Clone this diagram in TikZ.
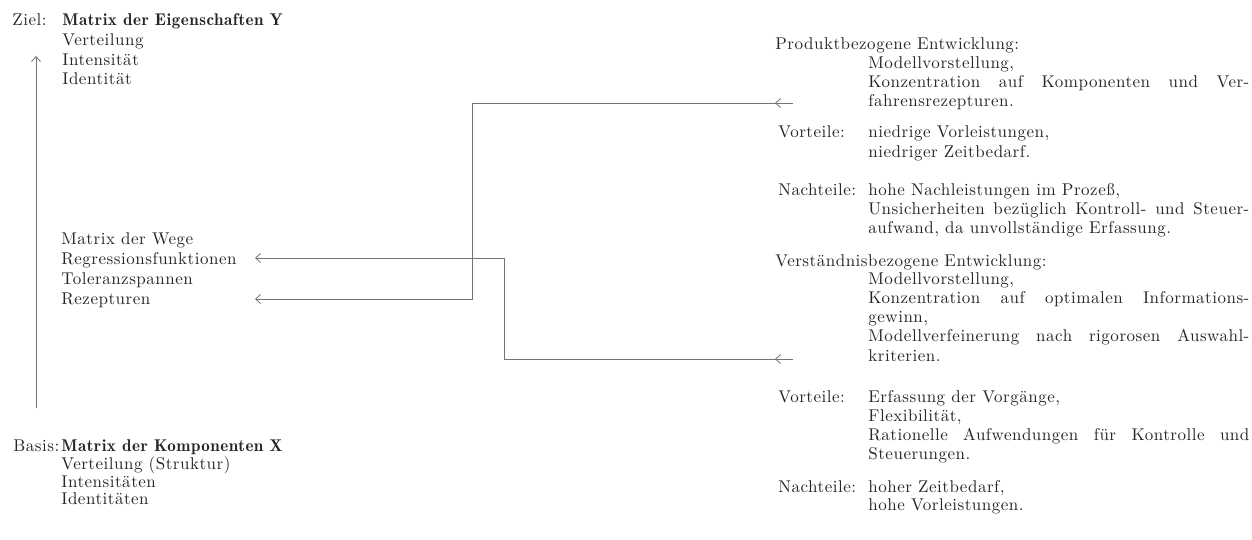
\documentclass[tikz,border=0pt]{standalone}
\usepackage{fontspec}
\setmainfont{lmroman10-regular}[Extension=.otf, BoldFont=lmromandemi10-regular, LetterSpace=3]
\usetikzlibrary{arrows.meta}
\tikzset{
  txt/.style={anchor=base west, inner sep=0pt, font=\fontsize{8.5}{10}\selectfont, text=black!85},
  conn/.style={draw=black!55, line width=0.4pt},
  tip/.style={conn, -{Straight Barb[length=2.5pt,width=4.5pt]}},
  tipstart/.style={conn, {Straight Barb[length=2.5pt,width=4.5pt]}-},
}
\newcommand{\jline}[1]{\makebox[190.5pt][s]{#1}}
\begin{document}
\begin{tikzpicture}[x=0.5pt,y=-0.5pt]
\useasboundingbox (0,0) rectangle (1252,540);
% left column, top
\node[txt] (ziel) at (12,26) {Ziel:};
\node[txt] (zielm) at (62,26) {\textbf{Matrix der Eigenschaften Y}};
\node[txt] (zv) at (62,46) {Verteilung};
\node[txt] (zi) at (62,66) {Intensität};
\node[txt] (zid) at (62,85) {Identität};
% left column, middle
\node[txt] (mw) at (61,244) {Matrix der Wege};
\node[txt] (rf) at (61,264) {Regressionsfunktionen};
\node[txt] (ts) at (61,284) {Toleranzspannen};
\node[txt] (rz) at (61,304) {Rezepturen};
% left column, bottom
\node[txt] (basis) at (13,451) {Basis:};
\node[txt] (basism) at (61,451) {\textbf{Matrix der Komponenten X}};
\node[txt] (bv) at (61,469) {Verteilung (Struktur)};
\node[txt] (bi) at (61,487) {Intensitäten};
\node[txt] (bid) at (61,504) {Identitäten};
% right column, upper block
\node[txt] (pe) at (775,50) {Produktbezogene Entwicklung:};
\node[txt] (pe1) at (868,69) {Modellvorstellung,};
\node[txt] (pe2) at (868,88) {\jline{Konzentration auf Komponenten und Ver-}};
\node[txt] (pe3) at (868,107) {fahrensrezepturen.};
\node[txt] (pv) at (778,138) {Vorteile:};
\node[txt] (pv1) at (868,138) {niedrige Vorleistungen,};
\node[txt] (pv2) at (868,157) {niedriger Zeitbedarf.};
\node[txt] (pn) at (778,195) {Nachteile:};
\node[txt] (pn1) at (868,195) {hohe Nachleistungen im Prozeß,};
\node[txt] (pn2) at (868,214) {\jline{Unsicherheiten bezüglich Kontroll- und Steuer-}};
\node[txt] (pn3) at (868,233) {aufwand, da unvollständige Erfassung.};
% right column, lower block
\node[txt] (ve) at (775,266) {Verständnisbezogene Entwicklung:};
\node[txt] (ve1) at (868,284) {Modellvorstellung,};
\node[txt] (ve2) at (868,303) {\jline{Konzentration auf optimalen Informations-}};
\node[txt] (ve3) at (868,322) {gewinn,};
\node[txt] (ve4) at (868,341) {\jline{Modellverfeinerung nach rigorosen Auswahl-}};
\node[txt] (ve5) at (868,361) {kriterien.};
\node[txt] (vv) at (778,402) {Vorteile:};
\node[txt] (vv1) at (868,402) {Erfassung der Vorgänge,};
\node[txt] (vv2) at (868,421) {Flexibilität,};
\node[txt] (vv3) at (868,440) {\jline{Rationelle Aufwendungen für Kontrolle und}};
\node[txt] (vv4) at (868,459) {Steuerungen.};
\node[txt] (vn) at (778,492) {Nachteile:};
\node[txt] (vn1) at (868,492) {hoher Zeitbedarf,};
\node[txt] (vn2) at (868,510) {hohe Vorleistungen.};
% connector coordinates
\coordinate (vb) at (36,408);
\coordinate (vt) at (36,56);
\coordinate (tr) at (255,258);
\coordinate (cr1) at (504,258);
\coordinate (cr2) at (504,359);
\coordinate (er) at (793,359);
\coordinate (hr) at (775,359);
\coordinate (tz) at (255,299);
\coordinate (cz1) at (472,299);
\coordinate (cz2) at (472,103);
\coordinate (ez) at (793,103);
\coordinate (hz) at (775,103);
% connectors
\draw[tip] (vb) -- (vt);
\draw[tipstart] (tr) -- (cr1) -- (cr2) -- (er);
\draw[tip] (er) -- (hr);
\draw[tipstart] (tz) -- (cz1) -- (cz2) -- (ez);
\draw[tip] (ez) -- (hz);
\end{tikzpicture}
\end{document}
